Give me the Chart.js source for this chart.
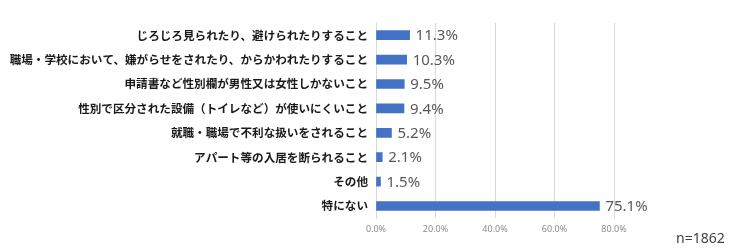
<!DOCTYPE html>
<html>
<head>
<meta charset="utf-8">
<script src="https://cdn.jsdelivr.net/npm/chart.js@4"></script>
<style>
  html, body { margin: 0; padding: 0; background: #fff; }
  #wrap { position: relative; width: 740px; height: 250px; }
  #note { position: absolute; left: 676px; top: 228px; font: 14px "Noto Sans", sans-serif; color: #404040; }
</style>
</head>
<body>
<div id="wrap">
  <canvas id="chart" width="740" height="250"></canvas>
  <div id="note">n=1862</div>
</div>
<script>
const categories = [
  'じろじろ見られたり、避けられたりすること',
  '職場・学校において、嫌がらせをされたり、からかわれたりすること',
  '申請書など性別欄が男性又は女性しかないこと',
  '性別で区分された設備（トイレなど）が使いにくいこと',
  '就職・職場で不利な扱いをされること',
  'アパート等の入居を断られること',
  'その他',
  '特にない'
];
const values = [11.3, 10.3, 9.5, 9.4, 5.2, 2.1, 1.5, 75.1];
const tickValues = [0, 20, 40, 60, 80];

// value labels to the right of each bar
const valueLabels = {
  id: 'valueLabels',
  afterDatasetsDraw(chart) {
    const ctx = chart.ctx;
    const meta = chart.getDatasetMeta(0);
    ctx.save();
    ctx.font = '15px "Noto Sans", sans-serif';
    ctx.fillStyle = '#595959';
    ctx.textBaseline = 'middle';
    meta.data.forEach((bar, i) => {
      ctx.fillText(values[i].toFixed(1) + '%', bar.x + 6, bar.y + 1);
    });
    ctx.restore();
  }
};

new Chart(document.getElementById('chart'), {
  type: 'bar',
  data: {
    labels: categories,
    datasets: [{
      data: values,
      backgroundColor: '#4472C4',
      barThickness: 9
    }]
  },
  options: {
    indexAxis: 'y',
    responsive: false,
    animation: false,
    layout: { padding: { top: 23, right: 126, bottom: 9, left: 0 } },
    plugins: { legend: { display: false }, tooltip: { enabled: false } },
    scales: {
      x: {
        min: 0,
        max: 80,
        afterBuildTicks(scale) { scale.ticks = tickValues.map(v => ({ value: v })); },
        ticks: {
          color: '#8c8c8c',
          font: { size: 9, family: '"Noto Sans", sans-serif' },
          padding: 6,
          callback: v => v.toFixed(1) + '%'
        },
        grid: { color: '#d9d9d9', drawTicks: false },
        border: { display: false }
      },
      y: {
        afterFit(scale) { scale.width = 376; },
        ticks: {
          color: '#1a1a1a',
          font: { size: 11.6, weight: 'bold', family: '"Noto Sans CJK JP", sans-serif' },
          padding: 8
        },
        grid: { display: false, drawTicks: false },
        border: { display: true, color: '#d9d9d9' }
      }
    }
  },
  plugins: [valueLabels]
});
</script>
</body>
</html>
